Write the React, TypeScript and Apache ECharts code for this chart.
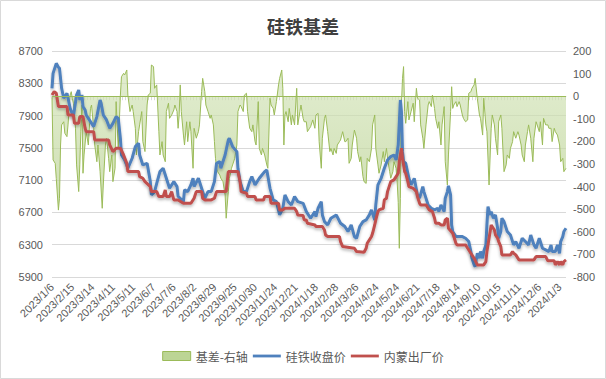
import React, { useEffect, useRef } from "react";
import * as echarts from "echarts";

const tickLabels = [
  "2023/1/6", "2023/2/15", "2023/3/14", "2023/4/11", "2023/5/11", "2023/6/7",
  "2023/7/6", "2023/8/2", "2023/8/29", "2023/9/25", "2023/10/30", "2023/11/24",
  "2023/12/21", "2024/1/18", "2024/2/28", "2024/3/26", "2024/4/24", "2024/5/24",
  "2024/6/21", "2024/7/18", "2024/8/14", "2024/9/10", "2024/10/15", "2024/11/11",
  "2024/12/6", "2024/1/3",
];
const STEP = 19;
const N = 482;
const categories: string[] = Array.from({ length: N }, (_, i) =>
  i % STEP === 0 && tickLabels[i / STEP] ? tickLabels[i / STEP] : ""
);

// [category index, value]
const closePrice: [number, number][] = [
  [0,8238],[1,8423],[4,8547],[6,8500],[7,8485],[9,8238],[11,8114],[14,8176],[15,8114],[17,7990],[20,7887],[23,8155],[25,8217],[26,8093],[28,8155],[29,8011],[31,7969],[32,7907],[36,7825],[39,7763],[42,7887],[45,8093],[46,8052],[48,7907],[51,7846],[54,7742],[57,7804],[60,7887],[62,7866],[64,7618],[65,7412],[68,7350],[71,7247],[75,7371],[78,7515],[81,7557],[82,7412],[85,7288],[89,7309],[92,7082],[93,6917],[96,6958],[98,7061],[101,7206],[104,7247],[107,7123],[110,6999],[114,7082],[117,7020],[118,6900],[123,6834],[124,6979],[127,6958],[130,7041],[132,7123],[133,7020],[137,7123],[140,6999],[143,6876],[146,6958],[149,6958],[152,7082],[154,7309],[157,7330],[158,7247],[162,7412],[165,7598],[166,7618],[169,7515],[173,7453],[174,7247],[176,7082],[179,6958],[182,6958],[185,7082],[187,7144],[190,7041],[194,7123],[199,7206],[201,7226],[204,6999],[207,6855],[210,6834],[213,6669],[216,6752],[218,6917],[221,6834],[224,6793],[227,6896],[230,6834],[235,6813],[238,6710],[242,6628],[246,6710],[247,6648],[249,6752],[252,6834],[253,6669],[255,6586],[258,6545],[261,6628],[266,6669],[270,6566],[274,6525],[277,6463],[280,6545],[283,6401],[285,6380],[288,6525],[291,6586],[294,6607],[297,6669],[299,6731],[302,6607],[303,6793],[305,7041],[308,7123],[311,7247],[314,7350],[317,7391],[320,7412],[322,7350],[324,7536],[326,8093],[327,7949],[328,7453],[329,7330],[331,7309],[334,7123],[336,7041],[339,7123],[342,6917],[344,6876],[347,7020],[348,6958],[352,6793],[355,6752],[358,6731],[361,6752],[362,6710],[364,6793],[367,6710],[368,6876],[370,6958],[371,7030],[373,6917],[374,6545],[375,6463],[378,6401],[381,6401],[384,6401],[387,6380],[390,6339],[392,6215],[393,6133],[395,6050],[396,6029],[398,6194],[400,6133],[401,6215],[403,6133],[404,6215],[406,6298],[407,6545],[408,6772],[410,6669],[411,6710],[413,6628],[415,6669],[417,6504],[418,6380],[420,6463],[421,6628],[423,6586],[426,6463],[429,6421],[432,6298],[434,6339],[437,6256],[440,6380],[443,6339],[446,6298],[448,6421],[451,6298],[453,6256],[456,6380],[459,6256],[462,6236],[465,6215],[467,6298],[468,6215],[471,6215],[473,6298],[475,6194],[476,6339],[478,6401],[479,6463],[481,6504],
];

const factoryPrice: [number, number][] = [
  [0,8155],[2,8196],[4,8176],[6,8011],[14,8011],[15,7907],[20,7907],[21,7804],[25,7804],[26,7887],[29,7887],[31,7742],[32,7701],[39,7701],[40,7598],[53,7598],[54,7536],[57,7453],[60,7495],[64,7495],[67,7412],[70,7309],[71,7206],[81,7206],[82,7144],[85,7123],[87,7082],[92,7020],[93,6958],[98,6958],[100,6896],[104,6896],[106,6979],[107,6896],[110,6896],[112,6958],[114,6855],[118,6855],[123,6813],[130,6813],[133,6876],[135,6958],[140,6958],[141,6876],[143,6855],[149,6855],[152,6876],[154,6958],[163,6958],[165,7206],[174,7206],[176,7082],[177,6958],[182,6937],[183,6896],[190,6896],[191,6855],[198,6855],[199,6896],[204,6896],[205,6813],[212,6813],[213,6731],[216,6731],[218,6752],[227,6752],[229,6710],[230,6669],[235,6661],[236,6607],[238,6607],[239,6566],[246,6545],[247,6525],[253,6525],[255,6483],[256,6421],[258,6401],[269,6401],[270,6339],[272,6277],[283,6256],[285,6215],[292,6207],[294,6256],[295,6318],[299,6401],[300,6442],[302,6545],[303,6607],[305,6710],[306,6731],[310,6752],[311,6855],[313,6876],[314,6958],[317,7082],[320,7103],[322,7144],[324,7185],[325,7330],[327,7495],[328,7371],[330,7206],[331,7185],[333,7082],[334,7020],[338,6999],[341,6958],[342,6896],[344,6813],[345,6793],[350,6793],[352,6752],[353,6731],[356,6710],[358,6628],[359,6566],[362,6566],[364,6545],[367,6545],[368,6607],[370,6628],[371,6504],[375,6442],[376,6401],[378,6318],[379,6298],[387,6298],[389,6256],[392,6194],[395,6133],[398,6050],[404,6050],[406,6091],[407,6215],[409,6380],[411,6545],[414,6483],[415,6421],[417,6380],[418,6339],[420,6277],[421,6174],[429,6174],[431,6215],[432,6194],[434,6174],[437,6112],[451,6112],[453,6153],[462,6153],[464,6100],[470,6100],[471,6050],[473,6091],[475,6050],[476,6091],[478,6050],[479,6091],[481,6112],
];

const basis: [number, number][] = [
  [0,-5],[1,-282],[3,-297],[4,-364],[6,-504],[7,-452],[8,-216],[9,-127],[11,-113],[12,-164],[14,-179],[15,-127],[17,5],[18,20],[19,-9],[20,-31],[22,-142],[23,-304],[25,-422],[26,-304],[27,-157],[28,-39],[29,-341],[30,-260],[32,-157],[34,-216],[36,-54],[37,-39],[39,-142],[40,-216],[42,-290],[43,-216],[45,-334],[47,-496],[48,-393],[50,-216],[51,-186],[53,-275],[54,-334],[56,-260],[57,-378],[59,-319],[60,-24],[62,-231],[64,5],[65,86],[67,101],[68,94],[70,116],[71,5],[73,-68],[75,-39],[76,-68],[78,-142],[79,-260],[81,-157],[82,-127],[84,-68],[85,-201],[87,-245],[89,-39],[90,5],[92,13],[93,138],[95,131],[96,35],[98,50],[100,-157],[101,-260],[103,-201],[104,-260],[106,-290],[107,-68],[109,-31],[110,-98],[112,-83],[114,-61],[115,-39],[117,-68],[118,-142],[119,-83],[120,50],[121,-68],[123,-172],[124,-216],[126,-113],[127,-201],[129,-113],[130,-157],[132,-319],[133,-142],[135,-186],[137,-157],[138,-127],[140,20],[141,79],[143,20],[144,-39],[146,-68],[148,-98],[149,-83],[151,-127],[152,-201],[153,-275],[154,-319],[155,-334],[157,-349],[158,-363],[160,-378],[162,-437],[163,-540],[165,-422],[166,-363],[168,-319],[171,-275],[173,-216],[174,-68],[176,-39],[177,-46],[179,-68],[180,5],[182,13],[183,-68],[185,-142],[187,-157],[188,-127],[190,-201],[191,-216],[193,-24],[194,-231],[196,-260],[197,-231],[199,-260],[201,-304],[202,-319],[204,-9],[205,-39],[207,-54],[208,-83],[210,-24],[212,50],[213,79],[215,116],[216,35],[217,-216],[218,-83],[219,-68],[221,-113],[222,-54],[224,-127],[225,-83],[227,-127],[229,35],[230,-127],[232,-68],[233,-39],[235,-98],[236,-113],[238,-113],[239,-157],[241,-142],[242,-135],[244,-105],[246,-142],[247,-83],[249,-76],[250,-201],[252,-319],[253,-186],[255,-98],[256,-83],[258,-157],[260,-245],[261,-231],[263,-260],[264,-231],[266,-253],[267,-216],[269,-201],[270,-194],[272,-157],[274,-201],[275,-201],[277,-186],[278,-297],[280,-275],[281,-216],[283,-150],[285,-186],[286,-245],[288,-290],[289,-268],[291,-356],[292,-378],[294,-386],[295,-275],[297,-290],[299,-231],[300,-127],[302,-83],[303,-231],[305,-304],[306,-341],[308,-304],[310,-245],[311,-290],[313,-231],[314,-275],[316,-334],[317,-363],[319,-334],[320,-290],[322,-319],[323,-380],[324,-470],[325,-673],[326,-452],[327,-39],[328,79],[329,131],[330,-68],[331,-120],[333,-24],[334,-105],[336,-68],[338,-31],[339,-113],[341,35],[342,-9],[344,-17],[345,-127],[347,-186],[348,-231],[350,-127],[352,-39],[353,-24],[355,-46],[356,5],[358,-54],[359,-98],[361,-142],[362,-113],[364,-216],[365,-127],[367,-46],[368,-290],[370,-393],[371,-260],[373,-68],[374,42],[375,-54],[376,-39],[378,-24],[379,-46],[381,-24],[382,-39],[384,-83],[385,-98],[387,-113],[389,-105],[390,13],[392,20],[393,35],[395,50],[396,79],[398,-9],[400,-83],[401,-98],[403,-172],[404,-9],[406,-127],[407,-157],[409,-393],[411,-142],[412,-83],[414,-127],[415,-186],[417,-260],[418,-113],[420,-83],[421,-142],[423,-334],[425,-304],[426,-260],[428,-275],[429,-231],[431,-201],[432,-157],[434,-186],[436,-157],[437,-172],[439,-216],[440,-260],[442,-290],[443,-216],[445,-157],[446,-127],[448,-186],[450,-290],[451,-186],[453,-113],[454,-127],[456,-157],[457,-113],[459,-216],[460,-98],[462,-127],[464,-127],[465,-142],[467,-142],[468,-201],[470,-142],[471,-157],[473,-172],[475,-216],[476,-290],[478,-275],[479,-334],[481,-319],
];

const leftTicks = { min: 5900, max: 8700, interval: 400 };
const rightTicks = { min: -800, max: 200, interval: 100 };

const NUM_FONT = "'Liberation Sans', Arial, sans-serif";
const CJK_FONT = "'Noto Sans CJK SC', 'Noto Sans', sans-serif";

export default function App() {
  const ref = useRef<HTMLDivElement>(null);
  useEffect(() => {
    document.body.style.margin = "0";
    if (!ref.current) return;
    const chart = echarts.init(ref.current, null, { renderer: "svg" });
    const lineShadow = {
      shadowColor: "rgba(0,0,0,0.28)",
      shadowBlur: 3,
      shadowOffsetY: 2,
    };
    chart.setOption({
      animation: false,
      backgroundColor: "#ffffff",
      title: {
        text: "硅铁基差",
        left: "center",
        top: 12,
        textStyle: {
          fontFamily: CJK_FONT,
          fontSize: 18,
          fontWeight: "bold",
          color: "#404040",
        },
      },
      graphic: [
        {
          type: "rect",
          shape: { x: 0.5, y: 0.5, width: 605, height: 378 },
          style: { fill: "none", stroke: "#d9d9d9", lineWidth: 1 },
          silent: true,
        },
      ],
      legend: {
        bottom: 12,
        left: "center",
        itemWidth: 28,
        itemHeight: 9,
        itemGap: 5,
        textStyle: { fontFamily: CJK_FONT, fontSize: 12, color: "#595959" },
        data: [
          {
            name: "基差-右轴",
            icon: "rect",
            itemStyle: { color: "#bcd595", borderColor: "#9bbb59", borderWidth: 1 },
          },
          { name: "硅铁收盘价", icon: "path://M0,0H30V3H0Z", itemStyle: { color: "#4f81bd" } },
          { name: "内蒙出厂价", icon: "path://M0,0H30V3H0Z", itemStyle: { color: "#c0504d" } },
        ],
      },
      grid: { left: 52, right: 40, top: 51, bottom: 102, containLabel: false },
      xAxis: {
        type: "category",
        data: categories,
        boundaryGap: false,
        axisLine: { show: true, lineStyle: { color: "#d9d9d9" } },
        axisTick: { show: true, interval: 2, length: 4, lineStyle: { color: "#d9d9d9" } },
        axisLabel: {
          interval: STEP - 1,
          rotate: 45,
          fontSize: 11,
          fontFamily: NUM_FONT,
          color: "#595959",
          margin: 8,
        },
        splitLine: { show: false },
      },
      yAxis: [
        {
          type: "value",
          ...leftTicks,
          axisLine: { show: false },
          axisTick: { show: false },
          axisLabel: {
            fontSize: 11,
            fontFamily: NUM_FONT,
            color: "#595959",
            margin: 9,
            formatter: (v: number) => String(v),
          },
          splitLine: { show: true, lineStyle: { color: "#d9d9d9", width: 1 } },
        },
        {
          type: "value",
          ...rightTicks,
          position: "right",
          axisLine: { show: false },
          axisTick: { show: false },
          axisLabel: {
            fontSize: 11,
            fontFamily: NUM_FONT,
            color: "#595959",
            margin: 7,
            formatter: (v: number) => String(v),
          },
          splitLine: { show: false },
        },
      ],
      series: [
        {
          name: "基差-右轴",
          type: "line",
          yAxisIndex: 1,
          data: basis,
          symbol: "none",
          color: "#9bbb59",
          lineStyle: { color: "#9bbb59", width: 1 },
          areaStyle: {
            origin: 0,
            color: new echarts.graphic.LinearGradient(0, 0, 0, 1, [
              { offset: 0, color: "#d6e6bd" },
              { offset: 1, color: "#b2cc86" },
            ]),
          },
          markLine: {
            silent: true,
            symbol: ["none", "none"],
            label: { show: false },
            lineStyle: { color: "#9bbb59", width: 1, type: "solid" },
            data: [{ yAxis: 0 }],
          },
          z: 1,
        },
        {
          name: "硅铁收盘价",
          type: "line",
          data: closePrice,
          symbol: "none",
          color: "#4f81bd",
          lineStyle: { color: "#4f81bd", width: 3, ...lineShadow },
          z: 3,
        },
        {
          name: "内蒙出厂价",
          type: "line",
          data: factoryPrice,
          symbol: "none",
          color: "#c0504d",
          lineStyle: { color: "#c0504d", width: 3, ...lineShadow },
          z: 4,
        },
      ],
    });
    return () => chart.dispose();
  }, []);
  return <div ref={ref} style={{ width: 606, height: 379 }} />;
}
